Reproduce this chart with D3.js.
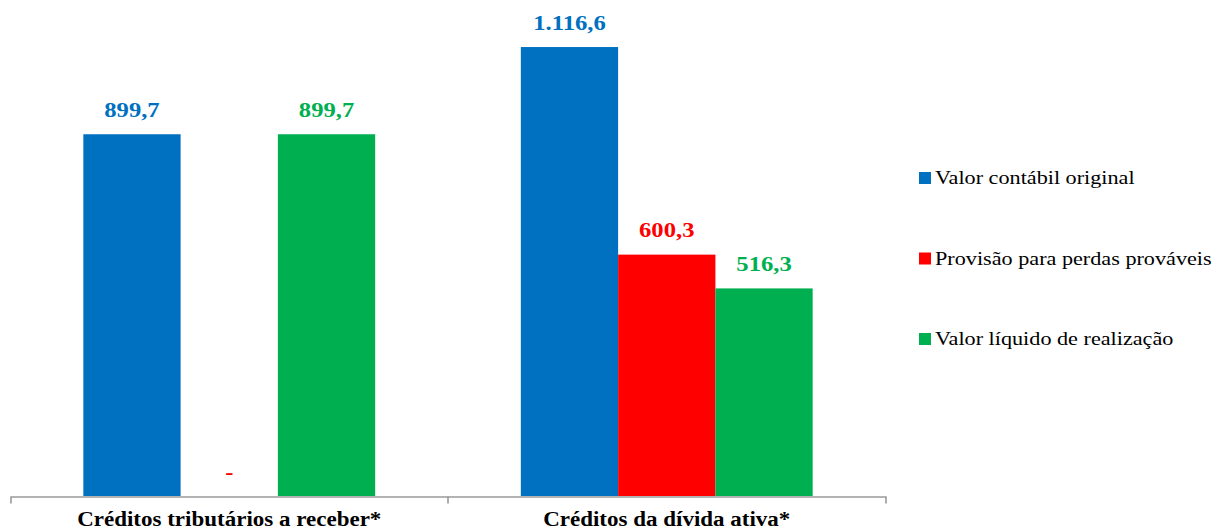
<!DOCTYPE html>
<html>
<head>
<meta charset="utf-8">
<script src="https://cdn.jsdelivr.net/npm/d3@7"></script>
<style>
  html, body { margin: 0; padding: 0; background: #fff; }
  svg { display: block; }
  text { font-family: "Liberation Serif", "Times New Roman", serif; }
</style>
</head>
<body>
<svg id="chart" width="1224" height="531"></svg>
<script>
// ---- Data ----
const categories = ["Créditos tributários a receber*", "Créditos da dívida ativa*"];
const seriesNames = ["Valor contábil original", "Provisão para perdas prováveis", "Valor líquido de realização"];
const valorContabilOriginal = [899.7, 1116.6];
const provisaoPerdas = [0, 600.3];
const valorLiquidoRealizacao = [899.7, 516.3];
const seriesColors = ["#0070C0", "#FF0000", "#00B050"];

const seriesValues = [valorContabilOriginal, provisaoPerdas, valorLiquidoRealizacao];

// ---- Layout ----
const svg = d3.select("#chart");
const baseY = 496;
const x0 = d3.scaleBand().domain(categories).range([10.5, 885.5]).paddingInner(0).paddingOuter(0);
const x1 = d3.scaleBand().domain(seriesNames).range([0, x0.bandwidth()])
  .paddingInner(0).paddingOuter(73 / 97.5);
const y = d3.scaleLinear().domain([0, 1200]).range([baseY, 13.5]);

const loc = d3.formatLocale({ decimal: ",", thousands: ".", grouping: [3], currency: ["R$", ""] });
const fmt = v => v === 0 ? "-" : loc.format(",.1f")(v);

// ---- Bars ----
const groups = svg.append("g").selectAll("g")
  .data(categories)
  .join("g")
  .attr("transform", d => `translate(${x0(d)},0)`);

groups.each(function (cat, ci) {
  const g = d3.select(this);
  const rows = seriesNames.map((s, si) => ({ s, si, v: seriesValues[si][ci] }));
  g.selectAll("rect").data(rows).join("rect")
    .attr("x", d => x1(d.s))
    .attr("y", d => y(d.v))
    .attr("width", x1.bandwidth())
    .attr("height", d => y(0) - y(d.v))
    .attr("fill", d => seriesColors[d.si]);
  g.selectAll("text.val").data(rows).join("text")
    .attr("class", "val")
    .attr("transform", d => `translate(${x1(d.s) + x1.bandwidth() / 2},${y(d.v) - 17.5}) scale(1.12,1)`)
    .attr("text-anchor", "middle")
    .attr("font-size", 22)
    .attr("font-weight", "bold")
    .attr("fill", d => seriesColors[d.si])
    .text(d => fmt(d.v));
});

// ---- Axis ----
const axis = d3.axisBottom(x0).tickSizeInner(0).tickSizeOuter(7).tickPadding(0);
const axG = svg.append("g").attr("transform", `translate(0,${baseY + 0.5})`).call(axis);
axG.select(".domain").attr("stroke", "#9a9a9a").attr("stroke-width", 1.6);
axG.selectAll(".tick line").remove();
axG.selectAll(".tick text")
  .attr("y", 0).attr("dy", 0)
  .attr("transform", "translate(0,29.5) scale(1.15,1)")
  .attr("font-family", "Liberation Serif, Times New Roman, serif")
  .attr("font-size", 20)
  .attr("font-weight", "bold")
  .attr("fill", "#000");
// boundary tick between categories
axG.append("line")
  .attr("x1", x0(categories[1])).attr("x2", x0(categories[1]))
  .attr("y1", 0).attr("y2", 7)
  .attr("stroke", "#9a9a9a").attr("stroke-width", 1.6);

// ---- Legend ----
const legendY = [184, 264.5, 345];
const leg = svg.append("g").selectAll("g").data(seriesNames).join("g")
  .attr("transform", (d, i) => `translate(919,${legendY[i]})`);
leg.append("rect")
  .attr("x", 0).attr("y", -12).attr("width", 12).attr("height", 12)
  .attr("fill", (d, i) => seriesColors[i]);
leg.append("text")
  .attr("transform", "translate(16,0) scale(1.2,1)")
  .attr("font-size", 18.5)
  .attr("fill", "#000")
  .text(d => d);
</script>
</body>
</html>
